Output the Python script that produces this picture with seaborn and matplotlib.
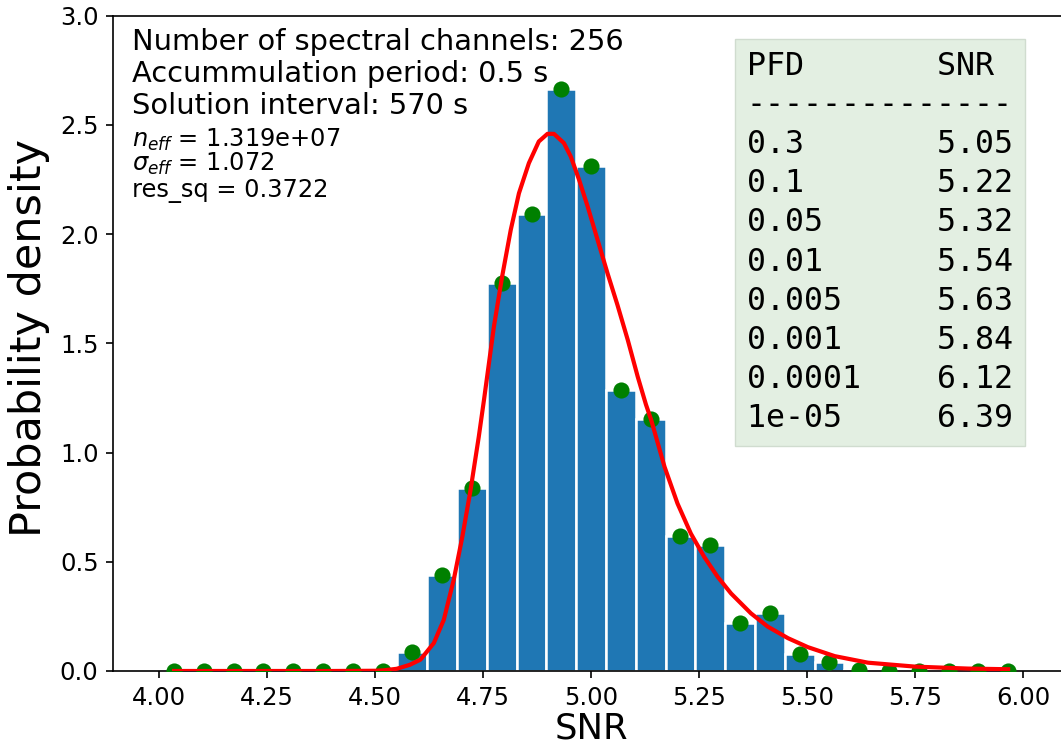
import numpy as np
import pandas as pd
import matplotlib
matplotlib.use("Agg")
import matplotlib.pyplot as plt
import seaborn as sns

# histogram: 29 bins between 4.0 and 6.0
bin_range = (4.0, 6.0)
n_bins = 29
bin_centers = [4.0345, 4.1034, 4.1724, 4.2414, 4.3103, 4.3793, 4.4483, 4.5172,
               4.5862, 4.6552, 4.7241, 4.7931, 4.8621, 4.9310, 5.0000, 5.0690,
               5.1379, 5.2069, 5.2759, 5.3448, 5.4138, 5.4828, 5.5517, 5.6207,
               5.6897, 5.7586, 5.8276, 5.8966, 5.9655]
density = [0, 0, 0, 0, 0, 0, 0, 0,
           0.085, 0.44, 0.84, 1.775, 2.09, 2.665, 2.31, 1.285,
           1.155, 0.62, 0.575, 0.22, 0.265, 0.08, 0.04, 0.003,
           0, 0, 0, 0, 0]

# fitted curve
fit_snr = [4.0345, 4.2, 4.4, 4.50, 4.52, 4.55, 4.58, 4.605, 4.636, 4.659,
           4.682, 4.702, 4.721, 4.740, 4.752, 4.775, 4.794, 4.814, 4.833, 4.856,
           4.879, 4.899, 4.914, 4.937, 4.953, 4.972, 4.992, 5.015, 5.038, 5.061,
           5.085, 5.108, 5.127, 5.139, 5.170, 5.200, 5.231, 5.262, 5.293, 5.324,
           5.370, 5.409, 5.456, 5.502, 5.564, 5.641, 5.750, 5.873, 5.9655]
fit_pdf = [0, 0, 0, 0.001, 0.003, 0.01, 0.028, 0.052, 0.128, 0.234,
           0.417, 0.615, 0.829, 1.072, 1.24, 1.576, 1.805, 2.019, 2.187, 2.325,
           2.424, 2.459, 2.459, 2.417, 2.355, 2.25, 2.127, 1.974, 1.821, 1.676,
           1.515, 1.347, 1.22, 1.15, 0.935, 0.767, 0.629, 0.522, 0.431, 0.355,
           0.264, 0.203, 0.150, 0.109, 0.068, 0.038, 0.020, 0.011, 0.008]

# false detection probability table
pfd = [0.3, 0.1, 0.05, 0.01, 0.005, 0.001, 0.0001, 1e-05]
snr_thresh = [5.05, 5.22, 5.32, 5.54, 5.63, 5.84, 6.12, 6.39]

info_lines = ["Number of spectral channels: 256",
              "Accummulation period: 0.5 s",
              "Solution interval: 570 s"]
fit_lines = [r"$n_{eff}$ = 1.319e+07",
             r"$\sigma_{eff}$ = 1.072",
             "res_sq = 0.3722"]

df = pd.DataFrame({"snr": bin_centers, "density": density})
fit = pd.DataFrame({"snr": fit_snr, "pdf": fit_pdf})

fig = plt.figure(figsize=(10.61, 7.54), dpi=100)
ax = fig.add_axes([0.1068, 0.1101, 0.9006, 0.8691])

sns.histplot(data=df, x="snr", weights="density", bins=n_bins, binrange=bin_range,
             color="#1f77b4", alpha=1, edgecolor="white", linewidth=1.8, ax=ax)
sns.scatterplot(data=df, x="snr", y="density", color="green", s=135,
                linewidth=0, zorder=3, ax=ax)
sns.lineplot(data=fit, x="snr", y="pdf", color="red", linewidth=3,
             zorder=4, ax=ax)

ax.set_xlim(3.894, 6.106)
ax.set_ylim(0, 3.0)
ax.set_xticks(np.arange(4.0, 6.01, 0.25))
ax.set_yticks(np.arange(0, 3.01, 0.5))
ax.set_xlabel("SNR", fontsize=25.5, va="top")
ax.set_ylabel("Probability density", fontsize=31)
ax.xaxis.set_label_coords(0.5, -0.0623)
ax.yaxis.set_label_coords(-0.066, 0.508)
ax.tick_params(labelsize=17.5, length=5.3, width=1.2, pad=5.3)
for s in ax.spines.values():
    s.set_linewidth(1.2)

# header text
for yy, line in zip([0.9477, 0.8988, 0.8500], info_lines):
    ax.text(0.0195, yy, line, transform=ax.transAxes, fontsize=20.8, va="baseline")
for yy, line in zip([0.8002, 0.7636, 0.7239], fit_lines):
    ax.text(0.0195, yy, line, transform=ax.transAxes, fontsize=17.4, va="baseline")

# PFD table
rows = ["PFD       SNR", "-" * 14]
for p, s in zip(pfd, snr_thresh):
    rows.append(f"{str(p):<10}{s:.2f}")
ax.text(0.6627, 0.9464, "\n".join(rows), transform=ax.transAxes,
        family="DejaVu Sans Mono", fontsize=22.8, va="top", ha="left",
        linespacing=1.34,
        bbox=dict(boxstyle="square,pad=0.38", facecolor="#e3efe2",
                  edgecolor="#d0dccf", linewidth=1))

fig.savefig("out.png", dpi=100)
